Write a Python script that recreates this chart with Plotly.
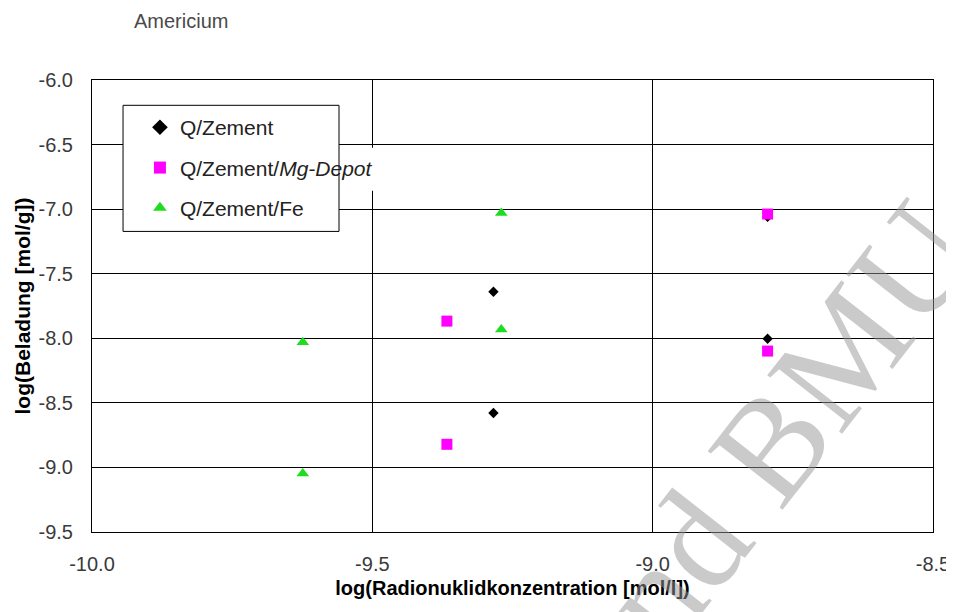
import plotly.graph_objects as go

# log(concentration) / log(loading) per series
zement_x = [-9.284, -9.284, -8.795, -8.795]
zement_y = [-7.64, -8.578, -7.06, -8.004]

mg_x = [-9.367, -9.367, -8.795, -8.795]
mg_y = [-7.867, -8.821, -7.038, -8.099]

fe_x = [-9.624, -9.624, -9.270, -9.270]
fe_y = [-8.03, -9.047, -7.932, -7.03]

x_ticks = [-10.0, -9.5, -9.0, -8.5]
y_ticks = [-6.0, -6.5, -7.0, -7.5, -8.0, -8.5, -9.0, -9.5]

fig = go.Figure()
fig.add_trace(go.Scatter(x=zement_x, y=zement_y, mode="markers", name="Q/Zement",
                         legendgroup="a",
                         marker=dict(symbol="diamond", size=8, color="black")))
fig.add_trace(go.Scatter(x=mg_x, y=mg_y, mode="markers", name="Q/Zement/<i>Mg-Depot</i>",
                         legendgroup="b",
                         marker=dict(symbol="square", size=11, color="#FF00FF")))
fig.add_trace(go.Scatter(x=fe_x, y=fe_y, mode="markers", name="Q/Zement/Fe",
                         legendgroup="c",
                         marker=dict(symbol="triangle-up", size=11, color="#1EDC1E")))

axis_common = dict(showline=True, linecolor="black", linewidth=1, mirror=True,
                   showgrid=True, gridcolor="black", gridwidth=1, zeroline=False,
                   ticks="", tickfont=dict(size=20, color="#3a3a3a"),
                   ticklabelstandoff=14)

fig.update_xaxes(range=[-10.0, -8.5], tickvals=x_ticks,
                 ticktext=[f"{v:.1f}" for v in x_ticks],
                 title=dict(text="<b>log(Radionuklidkonzentration [mol/l])</b>",
                            font=dict(size=20, color="black"), standoff=6),
                 **axis_common)
fig.update_yaxes(range=[-9.5, -6.0], tickvals=y_ticks,
                 ticktext=[f"{v:.1f}" for v in y_ticks],
                 title=dict(text="<b>log(Beladung [mol/g])</b>",
                            font=dict(size=21, color="black"), standoff=2),
                 **axis_common)

fig.add_annotation(text="Americium", xref="paper", yref="paper", x=0.0476, y=1.13,
                   xanchor="left", yanchor="middle", showarrow=False,
                   font=dict(size=20, color="#4a4a4a"))

# legend frame (narrower than the legend text, as in the original)
fig.add_shape(type="rect", xref="paper", yref="paper", layer="above",
              x0=0.0369, x1=0.2937, y0=0.665, y1=0.944,
              fillcolor="white", line=dict(color="black", width=1))
fig.add_shape(type="rect", xref="paper", yref="paper", layer="above",
              x0=0.2949, x1=0.352, y0=0.755, y1=0.85,
              fillcolor="white", line=dict(width=0))

# faint watermark
fig.add_annotation(text="und BMU", xref="paper", yref="paper", x=0.80, y=0.175,
                   xanchor="center", yanchor="middle",
                   showarrow=False, textangle=-52,
                   font=dict(family="Liberation Serif", size=145,
                             color="rgba(150,150,150,0.5)"))

fig.update_layout(
    width=954, height=612,
    margin=dict(l=84, r=29, t=72, b=88),
    paper_bgcolor="white", plot_bgcolor="white",
    font=dict(family="Liberation Sans, Arial, sans-serif", size=20, color="black"),
    showlegend=True,
    legend=dict(x=0.057, y=0.94, xanchor="left", yanchor="top",
                bgcolor="rgba(0,0,0,0)", borderwidth=0,
                font=dict(size=21, color="#222"), itemsizing="constant",
                tracegroupgap=10),
)

fig.write_html("out.html")
